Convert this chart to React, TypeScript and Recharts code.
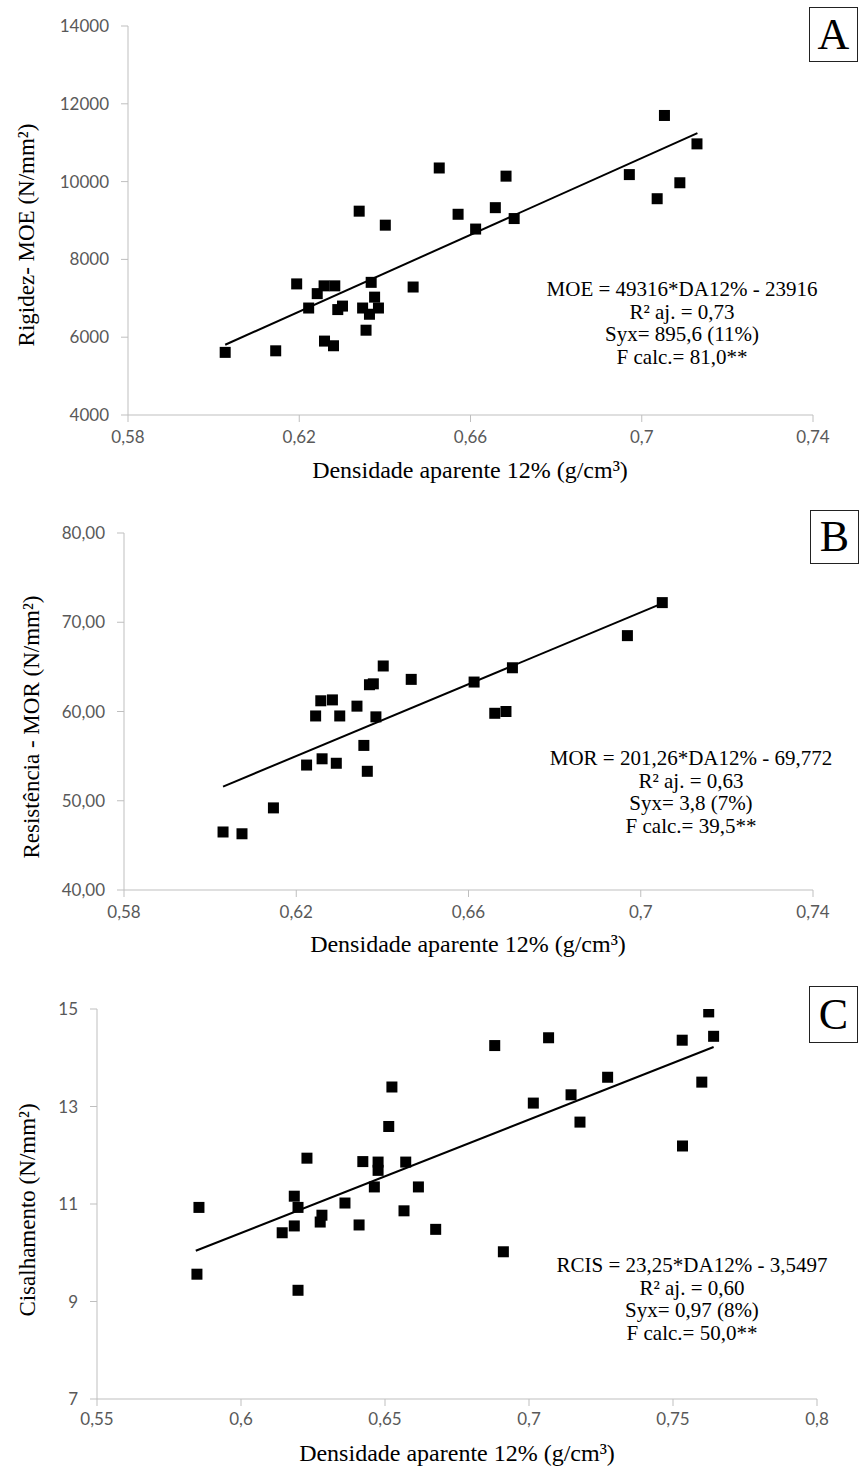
import { Scatter, ScatterChart, XAxis, YAxis } from "recharts";

// painel A - rigidez (MOE)
const densA = [0.6027, 0.6145, 0.6194, 0.6242, 0.6222, 0.6258, 0.6283, 0.6259, 0.628, 0.629, 0.6301, 0.634, 0.6348, 0.6356, 0.6364, 0.6368, 0.6376, 0.6385, 0.6401, 0.6466, 0.6527, 0.6571, 0.6612, 0.6658, 0.6683, 0.6702, 0.6971, 0.7036, 0.7053, 0.7089, 0.7129];
const moeA = [5610, 5650, 7370, 7120, 6750, 7320, 7320, 5900, 5780, 6710, 6800, 9240, 6750, 6180, 6590, 7410, 7030, 6750, 8880, 7290, 10350, 9160, 8780, 9330, 10140, 9050, 10180, 9560, 11700, 9970, 10970];
const trendA = [{ x: 0.6027, y: 5806 }, { x: 0.713, y: 11246 }];
const xTicksA = [0.58, 0.62, 0.66, 0.7, 0.74];
const yTicksA = [4000, 6000, 8000, 10000, 12000, 14000];

// painel B - resistencia (MOR)
const densB = [0.603, 0.6074, 0.6147, 0.6224, 0.6245, 0.6257, 0.626, 0.6284, 0.6293, 0.6301, 0.6341, 0.6357, 0.6365, 0.637, 0.6379, 0.6385, 0.6402, 0.6467, 0.6613, 0.6661, 0.6687, 0.6702, 0.6969, 0.705];
const morB = [46.5, 46.3, 49.2, 54.0, 59.5, 61.2, 54.7, 61.3, 54.2, 59.5, 60.6, 56.2, 53.3, 63.0, 63.1, 59.4, 65.1, 63.6, 63.3, 59.8, 60.0, 64.9, 68.5, 72.2];
const trendB = [{ x: 0.603, y: 51.59 }, { x: 0.705, y: 72.11 }];
const xTicksB = [0.58, 0.62, 0.66, 0.7, 0.74];
const yTicksB = [40, 50, 60, 70, 80];

// painel C - cisalhamento
const densC = [0.5854, 0.5847, 0.6143, 0.6185, 0.6198, 0.6185, 0.6229, 0.6198, 0.6281, 0.6275, 0.6361, 0.641, 0.6423, 0.6476, 0.6476, 0.6463, 0.6513, 0.6524, 0.6572, 0.6566, 0.6616, 0.6676, 0.6911, 0.6881, 0.7015, 0.7068, 0.7146, 0.7177, 0.7273, 0.7532, 0.7533, 0.76, 0.7624, 0.7641];
const rcisC = [10.93, 9.56, 10.41, 11.16, 10.93, 10.55, 11.94, 9.23, 10.77, 10.63, 11.02, 10.57, 11.87, 11.86, 11.69, 11.35, 12.59, 13.4, 11.86, 10.86, 11.35, 10.48, 10.02, 14.25, 13.07, 14.41, 13.24, 12.68, 13.6, 14.36, 12.19, 13.5, 14.94, 14.44];
const trendC = [{ x: 0.5843, y: 10.04 }, { x: 0.7641, y: 14.22 }];
const xTicksC = [0.55, 0.6, 0.65, 0.7, 0.75, 0.8];
const yTicksC = [7, 9, 11, 13, 15];

const eqA = ["MOE = 49316*DA12% - 23916", "R² aj. = 0,73", "Syx= 895,6 (11%)", "F calc.= 81,0**"];
const eqB = ["MOR = 201,26*DA12% - 69,772", "R² aj. = 0,63", "Syx= 3,8 (7%)", "F calc.= 39,5**"];
const eqC = ["RCIS = 23,25*DA12% - 3,5497", "R² aj. = 0,60", "Syx= 0,97 (8%)", "F calc.= 50,0**"];

const xTitle = "Densidade aparente 12% (g/cm³)";

const serif = "'Liberation Serif', 'Times New Roman', serif";
const sans = "Lato, 'Open Sans', sans-serif";
const gray = "#bfbfbf";

const comma = (v: number) => String(v).replace(".", ",");

const Square = (props: any) => (
  <rect x={props.cx - 5.5} y={props.cy - 5.5} width={11} height={11} fill="#000" />
);

function Panel(props: {
  top: number;
  height: number;
  margin: { top: number; right: number; bottom: number; left: number };
  xs: number[];
  ys: number[];
  trend: { x: number; y: number }[];
  xTicks: number[];
  yTicks: number[];
  yFmt: (v: number) => string;
  tickMarginX: number;
}) {
  const pts = props.xs.map((x, i) => ({ x, y: props.ys[i] }));
  const tick = { fontFamily: sans, fontSize: 17, fill: "#595959" };
  return (
    <div style={{ position: "absolute", left: 0, top: props.top }}>
      <ScatterChart width={859} height={props.height} margin={props.margin}>
        <XAxis
          type="number"
          dataKey="x"
          domain={[props.xTicks[0], props.xTicks[props.xTicks.length - 1]]}
          ticks={props.xTicks}
          tickFormatter={comma}
          height={40}
          stroke={gray}
          tickSize={7}
          tickMargin={props.tickMarginX}
          tick={tick}
          allowDataOverflow
        />
        <YAxis
          type="number"
          dataKey="y"
          domain={[props.yTicks[0], props.yTicks[props.yTicks.length - 1]]}
          ticks={props.yTicks}
          tickFormatter={props.yFmt}
          width={60}
          stroke={gray}
          tickSize={7}
          tickMargin={12}
          tick={tick}
          allowDataOverflow
        />
        <Scatter data={pts} shape={Square} isAnimationActive={false} />
        <Scatter
          data={props.trend}
          line={{ stroke: "#000", strokeWidth: 2 }}
          shape={() => <g />}
          isAnimationActive={false}
        />
      </ScatterChart>
    </div>
  );
}

function Equation({ lines, cx, top }: { lines: string[]; cx: number; top: number }) {
  return (
    <div
      style={{
        position: "absolute",
        left: cx - 200,
        top,
        width: 400,
        textAlign: "center",
        fontFamily: serif,
        fontSize: 21,
        lineHeight: "22.5px",
        color: "#000",
      }}
    >
      {lines.map((l) => (
        <div key={l}>{l}</div>
      ))}
    </div>
  );
}

function XTitle({ cx, cy }: { cx: number; cy: number }) {
  return (
    <div
      style={{
        position: "absolute",
        left: cx,
        top: cy,
        transform: "translate(-50%, -50%)",
        whiteSpace: "nowrap",
        fontFamily: serif,
        fontSize: 24,
      }}
    >
      {xTitle}
    </div>
  );
}

function YTitle({ text, cx, cy }: { text: string; cx: number; cy: number }) {
  return (
    <div
      style={{
        position: "absolute",
        left: cx,
        top: cy,
        transform: "translate(-50%, -50%) rotate(-90deg)",
        whiteSpace: "nowrap",
        fontFamily: serif,
        fontSize: 23,
      }}
    >
      {text}
    </div>
  );
}

function Letter({ text, left, top, h }: { text: string; left: number; top: number; h: number }) {
  return (
    <div
      style={{
        position: "absolute",
        left,
        top,
        width: 47,
        height: h,
        border: "1.5px solid #222",
        fontFamily: serif,
        fontSize: 44,
        lineHeight: h + "px",
        textAlign: "center",
      }}
    >
      {text}
    </div>
  );
}

export default function App() {
  return (
    <div style={{ position: "absolute", left: 0, top: 0, width: 859, height: 1468, background: "#fff" }}>
      <Panel
        top={0}
        height={480}
        margin={{ top: 26, right: 46, bottom: 25, left: 68 }}
        xs={densA}
        ys={moeA}
        trend={trendA}
        xTicks={xTicksA}
        yTicks={yTicksA}
        yFmt={(v) => String(v)}
        tickMarginX={9}
      />
      <Panel
        top={480}
        height={470}
        margin={{ top: 53, right: 46, bottom: 20, left: 64 }}
        xs={densB}
        ys={morB}
        trend={trendB}
        xTicks={xTicksB}
        yTicks={yTicksB}
        yFmt={(v) => v.toFixed(2).replace(".", ",")}
        tickMarginX={9}
      />
      <Panel
        top={950}
        height={518}
        margin={{ top: 59, right: 42, bottom: 29, left: 37 }}
        xs={densC}
        ys={rcisC}
        trend={trendC}
        xTicks={xTicksC}
        yTicks={yTicksC}
        yFmt={(v) => String(v)}
        tickMarginX={7}
      />

      <YTitle text="Rigidez- MOE (N/mm²)" cx={27} cy={235} />
      <YTitle text="Resistência - MOR (N/mm²)" cx={32} cy={727} />
      <YTitle text="Cisalhamento (N/mm²)" cx={28} cy={1210} />

      <XTitle cx={470} cy={470} />
      <XTitle cx={468} cy={944} />
      <XTitle cx={457} cy={1453} />

      <Equation lines={eqA} cx={682} top={278} />
      <Equation lines={eqB} cx={691} top={747} />
      <Equation lines={eqC} cx={692} top={1254} />

      <Letter text="A" left={809} top={7} h={53} />
      <Letter text="B" left={810} top={510} h={52} />
      <Letter text="C" left={809} top={986} h={55} />
    </div>
  );
}
